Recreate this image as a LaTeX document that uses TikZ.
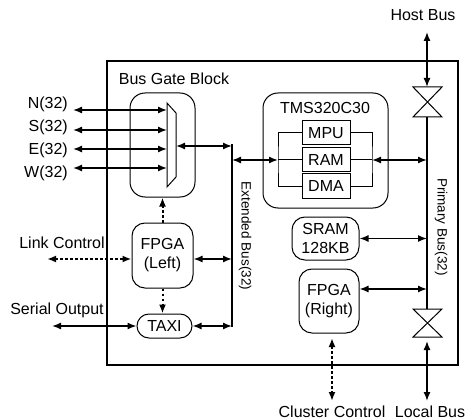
\documentclass[tikz,border=0pt]{standalone}
\usepackage{fontspec}
\setmainfont{Liberation Sans}
\usetikzlibrary{arrows.meta}

\begin{document}
\begin{tikzpicture}[
  x=1pt, y=-1pt,
  every node/.style={font=\fontsize{16}{19}\selectfont, inner sep=0pt},
  rbox/.style={draw, line width=1pt, rounded corners=13pt, align=center},
  sbox/.style={draw, line width=1pt, minimum width=48pt, minimum height=24pt},
  arrow/.style={{Latex[length=9pt,width=7pt]}-{Latex[length=9pt,width=7pt]}, line width=1.4pt},
  toarrow/.style={-{Latex[length=9pt,width=7pt]}, line width=1.4pt},
  dots/.style={dash pattern=on 2.5pt off 2.5pt, line width=2pt},
  bus/.style={line width=2.2pt},
  buslabel/.style={font=\fontsize{13.5}{16}\selectfont, rotate=-90},
  gate/.style={line width=1pt, fill=white},
]
  \useasboundingbox (0,0) rectangle (472,420);

  % Board frame
  \node[draw, line width=2.6pt, minimum width=351pt, minimum height=304pt] (frame) at (282.5,213) {};

  % Bus gate block
  \node (gatelbl) at (174,79) {Bus Gate Block};
  \node[rbox, rounded corners=15pt, minimum width=65pt, minimum height=104pt] (gatebox) at (162.5,145) {};
  \draw[gate] (167,103) -- (176,113) -- (176,177) -- (167,187) -- cycle;
  \coordinate (muxout) at (176,146);
  \foreach \dir/\yy/\ly in {N/110/104, S/130/127.5, E/149/150, W/168/173} {
    \node[anchor=east] (lbl\dir) at (68,\ly) {\dir(32)};
    \coordinate (in\dir) at (73,\yy);
    \coordinate (mux\dir) at (167,\yy);
    \draw[arrow] (in\dir) -- (mux\dir);
  }

  % Extended bus
  \coordinate (extTop) at (232,144);
  \coordinate (extBot) at (232,327);
  \draw[bus] (extTop) -- (extBot);
  \node[buslabel] (extlbl) at (245,236) {Extended Bus(32)};
  \draw[arrow] (muxout) -- (muxout -| extTop);

  % TMS320C30
  \node[rbox, rounded corners=15pt, minimum width=125pt, minimum height=115pt] (tms) at (325.5,150.5) {};
  \node (tmslbl) at (325,108) {TMS320C30};
  \node[sbox] (mpu) at (326,133) {MPU};
  \node[sbox] (ram) at (326,160) {RAM};
  \node[sbox] (dma) at (326,186) {DMA};
  \coordinate (brL) at (278,160);
  \coordinate (brR) at (372,160);
  \draw[line width=1pt] (mpu.west) -| (brL) |- (dma.west);
  \draw[line width=1pt] (brL) -- (ram.west);
  \draw[line width=1pt] (mpu.east) -| (brR) |- (dma.east);
  \draw[line width=1pt] (brR) -- (ram.east);

  % Primary bus
  \coordinate (pbTop) at (427,117);
  \coordinate (pbBot) at (427,309);
  \draw[bus] (pbTop) -- (pbBot);
  \node[buslabel] (prilbl) at (441,227) {Primary Bus(32)};
  \draw[arrow] (extTop |- brL) -- (brL);
  \draw[arrow] (brR) -- (brR -| pbTop);

  % Host and local bus gates
  \draw[gate] (413,87) -- (442,87) -- (413,117) -- (442,117) -- cycle;
  \draw[gate] (413,309) -- (442,309) -- (413,337) -- (442,337) -- cycle;
  \coordinate (hostIn) at (427,87);
  \coordinate (hostOut) at (427,32);
  \node (hostlbl) at (423,15) {Host Bus};
  \draw[arrow] (hostIn) -- (hostOut);
  \coordinate (localIn) at (427,341);
  \coordinate (localOut) at (427,401);
  \node (locallbl) at (430,412) {Local Bus};
  \draw[arrow] (localIn) -- (localOut);

  % SRAM and right FPGA
  \node[rbox, minimum width=67pt, minimum height=43pt] (sram) at (325.5,238.5) {SRAM\\128KB};
  \draw[arrow] (sram.east) -- (sram.east -| pbTop);
  \node[rbox, minimum width=60pt, minimum height=64pt] (fpgaR) at (329,301) {FPGA\\(Right)};
  \coordinate (pbR) at (427,289);
  \draw[arrow] (fpgaR.east |- pbR) -- (pbR);
  \coordinate (clTop) at (332,338);
  \coordinate (clBot) at (332,401);
  \node (cllbl) at (332,412) {Cluster Control};
  \draw[arrow, dots] (clTop) -- (clBot);

  % Left FPGA and TAXI
  \node[rbox, minimum width=61pt, minimum height=65pt] (fpgaL) at (162.5,255.5) {FPGA\\(Left)};
  \draw[toarrow, dots] (fpgaL.north) -- (gatebox.south);
  \coordinate (linkOut) at (47,259);
  \node (linklbl) at (62,243) {Link Control};
  \draw[arrow, dots] (linkOut) -- (linkOut -| fpgaL.west);
  \draw[arrow] (fpgaL.east |- linkOut) -- (linkOut -| extTop);
  \node[rbox, rounded corners=12pt, minimum width=55pt, minimum height=24pt] (taxi) at (164.5,326) {TAXI};
  \draw[toarrow, dots] (fpgaL.south) -- (fpgaL.south |- taxi.north);
  \draw[arrow] (taxi.east) -- (taxi.east -| extBot);
  \coordinate (serOut) at (52,326);
  \node (serlbl) at (57,310) {Serial Output};
  \draw[arrow] (serOut) -- (taxi.west);

\end{tikzpicture}
\end{document}
